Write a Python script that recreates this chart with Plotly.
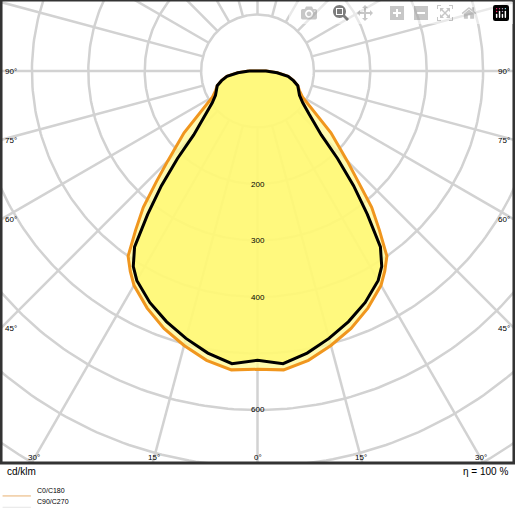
import numpy as np
import plotly.graph_objects as go

# luminous intensity (cd/klm) vs angle from nadir, symmetric halves
angles = [0, 5, 10, 15, 20, 25, 30, 32.5, 35, 37.5, 40, 42.5, 45, 50, 55, 60, 65, 70, 75, 80, 85, 90]
c0_c180 = [528, 531, 520, 503, 485, 463, 438, 420, 400, 355, 315, 265, 225, 170, 118, 92, 82, 76, 66, 55, 35, 15]
c90_c270 = [512, 520, 507, 490, 472, 452, 428, 410, 380, 320, 265, 210, 160, 120, 98, 86, 80, 76, 66, 55, 35, 15]
ring_values = [100, 200, 300, 400, 500, 600, 700, 800, 900]
ring_labels = [200, 300, 400, 600]
side_labels = [90, 75, 60, 45]
bottom_labels = [30, 15, 0, 15, 30]
bottom_signs = [-1, -1, 0, 1, 1]

XMAX = 456.6
YTOP, YBOT = 125.7, -693.8
GRID = "#d2d2d2"
FONT = "Liberation Sans"


def to_xy(ang, val):
    a = np.radians(np.concatenate([-np.array(ang[::-1]), np.array(ang[1:])]))
    r = np.concatenate([np.array(val[::-1]), np.array(val[1:])])
    x, y = r * np.sin(a), -r * np.cos(a)
    return np.append(x, x[0]), np.append(y, y[0])


fig = go.Figure()

# grid rings and spokes
t = np.linspace(0, 2 * np.pi, 361)
for rv in ring_values:
    fig.add_trace(go.Scatter(x=rv * np.cos(t), y=rv * np.sin(t), mode="lines",
                             line=dict(color=GRID, width=2.5), hoverinfo="skip", showlegend=False))
for deg in range(0, 360, 15):
    a = np.radians(deg)
    fig.add_trace(go.Scatter(x=[100 * np.sin(a), 1000 * np.sin(a)], y=[-100 * np.cos(a), -1000 * np.cos(a)],
                             mode="lines", line=dict(color=GRID, width=2.5), hoverinfo="skip", showlegend=False))

# curves
x0, y0 = to_xy(angles, c0_c180)
fig.add_trace(go.Scatter(x=x0, y=y0, mode="lines", fill="toself", fillcolor="rgba(255,250,150,0.75)",
                         line=dict(color="#f0961e", width=3), showlegend=False))
x1, y1 = to_xy(angles, c90_c270)
fig.add_trace(go.Scatter(x=x1, y=y1, mode="lines", fill="toself", fillcolor="rgba(255,248,110,0.75)",
                         line=dict(color="black", width=3), showlegend=False))

ann = []
for v in ring_labels:
    ann.append(dict(x=0, y=-v, text=str(v), showarrow=False, font=dict(size=8, family=FONT, color="black")))
for d in side_labels:
    yv = -XMAX / np.tan(np.radians(d)) if d != 90 else 0
    for s, xa in [(-1, "left"), (1, "right")]:
        ann.append(dict(x=s * (XMAX - 6), y=yv, text=f"{d}°", showarrow=False, xanchor=xa,
                        font=dict(size=8, family=FONT, color="black")))
for d, s in zip(bottom_labels, bottom_signs):
    xv = s * (-YBOT - 8) * np.tan(np.radians(d))
    ann.append(dict(x=xv, y=YBOT + 10, text=f"{d}°", showarrow=False,
                    font=dict(size=8, family=FONT, color="black")))

ann += [
    dict(x=0.01, y=0.07, xref="paper", yref="paper", text="cd/klm", showarrow=False, xanchor="left",
         font=dict(size=10, family=FONT, color="black")),
    dict(x=0.99, y=0.07, xref="paper", yref="paper", text="η = 100 %", showarrow=False, xanchor="right",
         font=dict(size=10, family=FONT, color="black")),
    dict(x=0.068, y=0.037, xref="paper", yref="paper", text="C0/C180", showarrow=False, xanchor="left",
         font=dict(size=7, family=FONT, color="black")),
    dict(x=0.068, y=0.015, xref="paper", yref="paper", text="C90/C270", showarrow=False, xanchor="left",
         font=dict(size=7, family=FONT, color="black")),
]

shapes = [
    dict(type="rect", xref="paper", yref="paper", x0=0.002, x1=0.998, y0=0.101, y1=1.0,
         line=dict(color="#333333", width=3)),
    dict(type="line", xref="paper", yref="paper", x0=0.005, x1=0.06, y0=0.037, y1=0.037,
         line=dict(color="#e8b070", width=1)),
    dict(type="line", xref="paper", yref="paper", x0=0.005, x1=0.06, y0=0.015, y1=0.015,
         line=dict(color="#e6e6e6", width=1)),
]

fig.update_layout(
    width=515, height=515, margin=dict(l=0, r=0, t=0, b=0),
    paper_bgcolor="white", plot_bgcolor="white",
    xaxis=dict(range=[-XMAX, XMAX], visible=False, domain=[0, 1]),
    yaxis=dict(range=[YBOT, YTOP], visible=False, domain=[0.101, 1]),
    annotations=ann, shapes=shapes, showlegend=False,
)

fig.write_html("out.html", post_script="document.body.style.margin='0';document.body.style.overflow='hidden';")
